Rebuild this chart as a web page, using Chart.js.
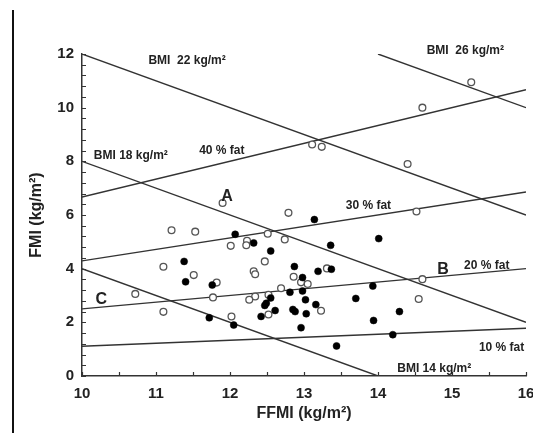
<!DOCTYPE html>
<html lang="en">
  <head>
    <meta charset="utf-8" />
    <title>FMI vs FFMI</title>
    <style>
      html, body { margin: 0; padding: 0; background: #fff; overflow: hidden; }
      #wrap { position: relative; width: 533px; height: 433px; overflow: hidden; }
      #edge { position: absolute; left: 12px; top: 10px; width: 2px; height: 423px; background: #111; }
      #chart { position: absolute; left: 0; top: 0; }
    </style>
  </head>
  <body>
    <div id="wrap">
      <div id="edge"></div>
      <canvas id="chart" width="560" height="433"></canvas>
    </div>
    <script src="https://cdn.jsdelivr.net/npm/chart.js@4/dist/chart.umd.min.js"></script>
    <script>
      // open circles
      const openX = [15.26, 14.60, 13.11, 13.24, 14.40, 11.90, 12.79, 14.52, 11.21, 11.53, 12.51, 12.23, 12.22, 12.74, 12.01, 12.47, 11.10, 11.51, 12.32, 12.34, 11.82, 13.31, 12.86, 12.96, 13.05, 14.60, 12.69, 10.72, 11.77, 12.34, 12.26, 12.52, 14.55, 13.23, 11.10, 12.02, 12.52];
      const openY = [10.95, 10.00, 8.63, 8.54, 7.90, 6.45, 6.08, 6.13, 5.43, 5.38, 5.30, 5.04, 4.87, 5.09, 4.85, 4.27, 4.07, 3.76, 3.90, 3.79, 3.48, 4.01, 3.70, 3.49, 3.43, 3.61, 3.27, 3.06, 2.93, 2.96, 2.84, 3.03, 2.87, 2.43, 2.39, 2.22, 2.29];

      // filled circles
      const filledX = [13.14, 14.01, 12.07, 12.32, 12.55, 13.36, 11.38, 12.87, 13.19, 13.37, 11.40, 11.76, 12.98, 13.93, 12.81, 12.98, 13.70, 12.55, 13.02, 12.49, 12.47, 13.16, 12.61, 12.85, 12.88, 14.29, 13.03, 12.42, 11.72, 13.94, 12.05, 12.96, 14.20, 13.44];
      const filledY = [5.83, 5.12, 5.28, 4.96, 4.66, 4.87, 4.27, 4.08, 3.90, 3.98, 3.51, 3.39, 3.67, 3.35, 3.12, 3.17, 2.89, 2.91, 2.84, 2.71, 2.63, 2.66, 2.44, 2.48, 2.40, 2.40, 2.32, 2.22, 2.17, 2.07, 1.90, 1.80, 1.54, 1.12];

      // reference lines (end points)
      const lineNames = ['BMI 14', 'BMI 18', 'BMI 22', 'BMI 26', '10 % fat', '20 % fat', '30 % fat', '40 % fat'];
      const lineX = [[10, 14], [10, 16], [10, 16], [14, 16], [10, 16], [10, 16], [10, 16], [10, 16]];
      const lineY = [[4, 0], [8, 2], [12, 6], [12, 10], [1.11, 1.78], [2.5, 4.0], [4.29, 6.86], [6.67, 10.67]];

      // annotation labels
      const noteText = ['BMI  22 kg/m²', 'BMI  26 kg/m²', 'BMI 18 kg/m²', '40 % fat', 'A', '30 % fat', 'B', '20 % fat', 'C', '10 % fat', 'BMI 14 kg/m²'];
      const noteX = [11.42, 15.18, 10.66, 11.89, 11.96, 13.87, 14.88, 15.47, 10.26, 15.67, 14.76];
      const noteY = [11.74, 12.12, 8.22, 8.41, 6.70, 6.33, 3.96, 4.11, 2.85, 1.04, 0.26];
      const noteBig = [false, false, false, false, true, false, true, false, true, false, false];

      const xTicks = [10, 11, 12, 13, 14, 15, 16];
      const yTicks = [0, 2, 4, 6, 8, 10, 12];

      const FONT = "'Liberation Sans', Arial, sans-serif";
      const INK = '#222';

      const pts = (xs, ys) => xs.map((x, i) => ({ x: x, y: ys[i] }));

      const lineSets = lineNames.map((name, i) => ({
        label: name,
        data: pts(lineX[i], lineY[i]),
        showLine: true,
        borderColor: '#333',
        borderWidth: 1.4,
        pointRadius: 0,
        order: 2
      }));

      // small inward ticks + text labels
      const extras = {
        id: 'extras',
        afterDatasetsDraw(chart) {
          const ctx = chart.ctx;
          const xs = chart.scales.x;
          const ys = chart.scales.y;
          const area = chart.chartArea;
          ctx.save();
          ctx.strokeStyle = '#333';
          ctx.lineWidth = 1.2;
          ctx.beginPath();
          for (let v = 10; v <= 16.001; v += 0.5) {
            const px = Math.round(xs.getPixelForValue(v)) + 0.5;
            ctx.moveTo(px, area.bottom);
            ctx.lineTo(px, area.bottom - 4);
          }
          for (let v = 0; v <= 12.001; v += 0.4) {
            const py = Math.round(ys.getPixelForValue(v)) + 0.5;
            ctx.moveTo(area.left, py);
            ctx.lineTo(area.left + 4, py);
          }
          ctx.stroke();

          ctx.fillStyle = INK;
          ctx.textAlign = 'center';
          ctx.textBaseline = 'middle';
          noteText.forEach((t, i) => {
            ctx.font = (noteBig[i] ? 'bold 16px ' : 'bold 12px ') + FONT;
            ctx.fillText(t, xs.getPixelForValue(noteX[i]), ys.getPixelForValue(noteY[i]));
          });
          ctx.restore();
        }
      };

      new Chart(document.getElementById('chart'), {
        type: 'scatter',
        data: {
          datasets: [
            ...lineSets,
            {
              label: 'open',
              data: pts(openX, openY),
              pointRadius: 3.4,
              pointBorderWidth: 1.3,
              pointBorderColor: '#555',
              pointBackgroundColor: '#fff',
              order: 1
            },
            {
              label: 'filled',
              data: pts(filledX, filledY),
              pointRadius: 3.5,
              pointBorderWidth: 0.5,
              pointBorderColor: '#000',
              pointBackgroundColor: '#000',
              order: 0
            }
          ]
        },
        options: {
          responsive: false,
          animation: false,
          devicePixelRatio: 1,
          layout: { padding: { top: 54, right: 34, left: 0, bottom: 0 } },
          plugins: {
            legend: { display: false },
            tooltip: { enabled: false }
          },
          scales: {
            x: {
              type: 'linear',
              min: 10,
              max: 16,
              afterBuildTicks: (s) => { s.ticks = xTicks.map(v => ({ value: v })); },
              afterFit: (s) => { s.height = 57; },
              grid: { display: true, drawOnChartArea: false, drawTicks: false },
              border: { display: true, color: '#333', width: 1.5 },
              ticks: {
                padding: 9,
                color: INK,
                font: { family: FONT, size: 15, weight: 'bold' }
              },
              title: {
                display: true,
                text: 'FFMI (kg/m²)',
                color: INK,
                padding: { top: 0, bottom: 10 },
                font: { family: FONT, size: 16, weight: 'bold' }
              }
            },
            y: {
              type: 'linear',
              min: 0,
              max: 12,
              afterBuildTicks: (s) => { s.ticks = yTicks.map(v => ({ value: v })); },
              afterFit: (s) => { s.width = 82; },
              grid: { display: true, drawOnChartArea: false, drawTicks: false },
              border: { display: true, color: '#333', width: 1.5 },
              ticks: {
                padding: 8,
                color: INK,
                font: { family: FONT, size: 15, weight: 'bold' }
              },
              title: {
                display: true,
                text: 'FMI (kg/m²)',
                color: INK,
                padding: { top: 27, bottom: 0 },
                font: { family: FONT, size: 16, weight: 'bold' }
              }
            }
          }
        },
        plugins: [extras]
      });
    </script>
  </body>
</html>
